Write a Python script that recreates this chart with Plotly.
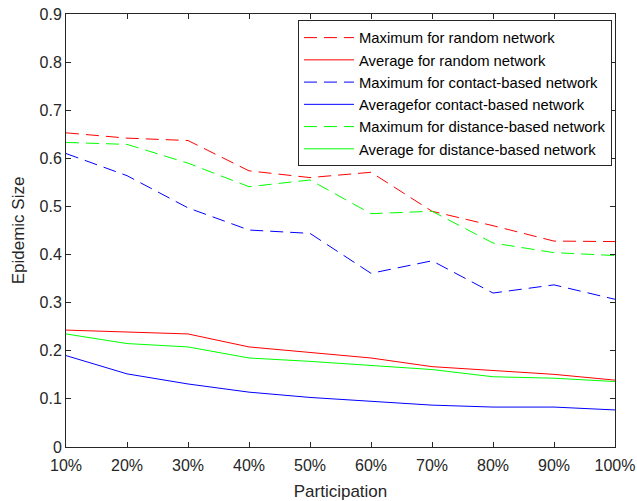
import plotly.graph_objects as go

categories = ["10%", "20%", "30%", "40%", "50%", "60%", "70%", "80%", "90%", "100%"]
max_random = [0.653, 0.642, 0.637, 0.574, 0.560, 0.571, 0.490, 0.460, 0.428, 0.427]
avg_random = [0.243, 0.239, 0.235, 0.208, 0.196, 0.185, 0.167, 0.159, 0.151, 0.139]
max_contact = [0.610, 0.564, 0.497, 0.451, 0.444, 0.361, 0.387, 0.320, 0.337, 0.307]
avg_contact = [0.190, 0.152, 0.131, 0.114, 0.103, 0.095, 0.087, 0.083, 0.083, 0.077]
max_distance = [0.633, 0.629, 0.590, 0.541, 0.555, 0.485, 0.490, 0.424, 0.404, 0.398]
avg_distance = [0.235, 0.215, 0.208, 0.185, 0.178, 0.169, 0.161, 0.146, 0.143, 0.136]
y_ticks = [0, 0.1, 0.2, 0.3, 0.4, 0.5, 0.6, 0.7, 0.8, 0.9]

series = [
    ("Maximum for random network", max_random, "#ff0000", "13px,7px"),
    ("Average for random network", avg_random, "#ff0000", "solid"),
    ("Maximum for contact-based network", max_contact, "#0000ff", "13px,7px"),
    ("Averagefor contact-based network", avg_contact, "#0000ff", "solid"),
    ("Maximum for distance-based network", max_distance, "#00ff00", "13px,7px"),
    ("Average for distance-based network", avg_distance, "#00ff00", "solid"),
]

fig = go.Figure()
for name, vals, color, dash in series:
    fig.add_trace(go.Scatter(x=categories, y=vals, mode="lines", name=name,
                             line=dict(color=color, width=1, dash=dash)))

font_family = "Liberation Sans, Arial, sans-serif"
fig.update_layout(
    width=637, height=501,
    margin=dict(l=66, r=22, t=14, b=54, autoexpand=False),
    paper_bgcolor="white", plot_bgcolor="white",
    font=dict(family=font_family, size=16, color="#262626"),
    showlegend=True,
    legend=dict(x=0.9945, y=0.985, xanchor="right", yanchor="top",
                bgcolor="white", bordercolor="#262626", borderwidth=1,
                font=dict(size=14.8, color="#000000"), itemwidth=50,
                tracegroupgap=0),
    xaxis=dict(type="category", range=[0, 9], showline=True, linecolor="#262626",
               linewidth=1, mirror="ticks", ticks="inside", ticklen=5,
               tickcolor="#262626", showgrid=False, zeroline=False,
               automargin=False, ticklabelstandoff=4,
               title=dict(text="Participation", font=dict(size=17), standoff=12)),
    yaxis=dict(range=[0, 0.9], tickvals=y_ticks,
               ticktext=[("%g" % v) for v in y_ticks],
               showline=True, linecolor="#262626", linewidth=1, mirror="ticks",
               ticks="inside", ticklen=5, tickcolor="#262626", showgrid=False,
               zeroline=False, automargin=False,
               title=dict(text="Epidemic Size", font=dict(size=17), standoff=10)),
)

fig.write_html("out.html")
